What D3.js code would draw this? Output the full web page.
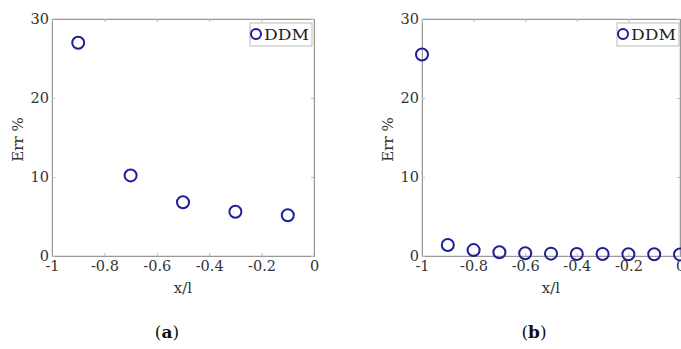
<!DOCTYPE html>
<html>
<head>
<meta charset="utf-8">
<script src="https://cdn.jsdelivr.net/npm/d3@7"></script>
<style>
  body { margin: 0; background: #fff; }
  svg { display: block; }
</style>
</head>
<body>
<div id="chart"></div>
<script>
// panel (a)
const xA = [-0.9, -0.7, -0.5, -0.3, -0.1];
const errA = [27.0, 10.2, 6.8, 5.6, 5.15];
// panel (b)
const xB = [-1, -0.9, -0.8, -0.7, -0.6, -0.5, -0.4, -0.3, -0.2, -0.1, 0];
const errB = [25.5, 1.4, 0.75, 0.47, 0.35, 0.3, 0.26, 0.25, 0.22, 0.22, 0.2];

const xTicks = [-1, -0.8, -0.6, -0.4, -0.2, 0];
const yTicks = [0, 10, 20, 30];
const seriesName = 'DDM';
const captions = ['a', 'b'];

const W = 681, H = 349;
const font = '"DejaVu Serif", "Liberation Serif", serif';
const markColor = '#1e1e96';
const axisColor = '#999';

const svg = d3.select('#chart')
  .append('svg')
  .attr('width', W)
  .attr('height', H);

const panels = [
  {left: 52, right: 314, xs: xA, ys: errA, cap: captions[0], capX: 167, legX: 250},
  {left: 422, right: 680, xs: xB, ys: errB, cap: captions[1], capX: 534, legX: 617}
];
const plotTop = 19, plotBottom = 256;

panels.forEach(p => {
  const x = d3.scaleLinear().domain([-1, 0]).range([p.left, p.right]);
  const y = d3.scaleLinear().domain([0, 30]).range([plotBottom, plotTop]);

  const g = svg.append('g');

  // frame
  g.append('rect')
    .attr('x', p.left).attr('y', plotTop)
    .attr('width', p.right - p.left).attr('height', plotBottom - plotTop)
    .attr('fill', 'none')
    .attr('stroke', '#ccc')
    .attr('stroke-width', 1);

  // bottom + left axes, ticks inward
  g.append('g')
    .attr('transform', 'translate(0,' + plotBottom + ')')
    .call(d3.axisBottom(x).tickValues(xTicks).tickSize(-3).tickPadding(5)
      .tickFormat(d => d === 0 ? '0' : String(d)));
  g.append('g')
    .attr('transform', 'translate(' + p.left + ',0)')
    .call(d3.axisLeft(y).tickValues(yTicks).tickSize(-3).tickPadding(3));

  // top + right ticks
  g.append('g')
    .attr('transform', 'translate(0,' + plotTop + ')')
    .call(d3.axisTop(x).tickValues(xTicks).tickSize(-3).tickFormat(''));
  g.append('g')
    .attr('transform', 'translate(' + p.right + ',0)')
    .call(d3.axisRight(y).tickValues(yTicks).tickSize(-3).tickFormat(''));

  g.selectAll('.domain').attr('stroke', axisColor);
  g.selectAll('.tick line').attr('stroke', '#bbb');
  g.selectAll('.tick text')
    .attr('fill', '#333')
    .style('font-family', font)
    .style('font-size', '14.5px');

  // markers
  g.selectAll('circle.pt')
    .data(p.xs.map((v, i) => [v, p.ys[i]]))
    .enter()
    .append('circle')
    .attr('class', 'pt')
    .attr('cx', d => x(d[0]))
    .attr('cy', d => y(d[1]))
    .attr('r', 6)
    .attr('fill', 'none')
    .attr('stroke', markColor)
    .attr('stroke-width', 2);

  // axis labels
  g.append('text')
    .attr('x', (p.left + p.right) / 2)
    .attr('y', 293)
    .attr('text-anchor', 'middle')
    .attr('fill', '#333')
    .style('font-family', font)
    .style('font-size', '15px')
    .text('x/l');

  g.append('text')
    .attr('transform', 'translate(' + (p.left - 29) + ',' + ((plotTop + plotBottom) / 2 + 2) + ')rotate(-90)')
    .attr('text-anchor', 'middle')
    .attr('fill', '#333')
    .style('font-family', font)
    .style('font-size', '15px')
    .text('Err %');

  // legend
  const leg = g.append('g');
  leg.append('rect')
    .attr('x', p.legX).attr('y', 23)
    .attr('width', 62).attr('height', 23)
    .attr('fill', '#fff')
    .attr('stroke', '#bbb');
  leg.append('circle')
    .attr('cx', p.legX + 6).attr('cy', 34)
    .attr('r', 5)
    .attr('fill', 'none')
    .attr('stroke', markColor)
    .attr('stroke-width', 2);
  leg.append('text')
    .attr('x', p.legX + 14).attr('y', 40)
    .attr('fill', '#222')
    .attr('textLength', 45)
    .attr('lengthAdjust', 'spacingAndGlyphs')
    .style('font-family', font)
    .style('font-size', '15px')
    .text(seriesName);

  // caption
  const cap = g.append('text')
    .attr('x', p.capX)
    .attr('y', 338)
    .attr('text-anchor', 'middle')
    .attr('fill', '#111')
    .style('font-family', font)
    .style('font-size', '17px');
  cap.append('tspan').text('(');
  cap.append('tspan').attr('font-weight', 'bold').text(p.cap);
  cap.append('tspan').text(')');
});
</script>
</body>
</html>
